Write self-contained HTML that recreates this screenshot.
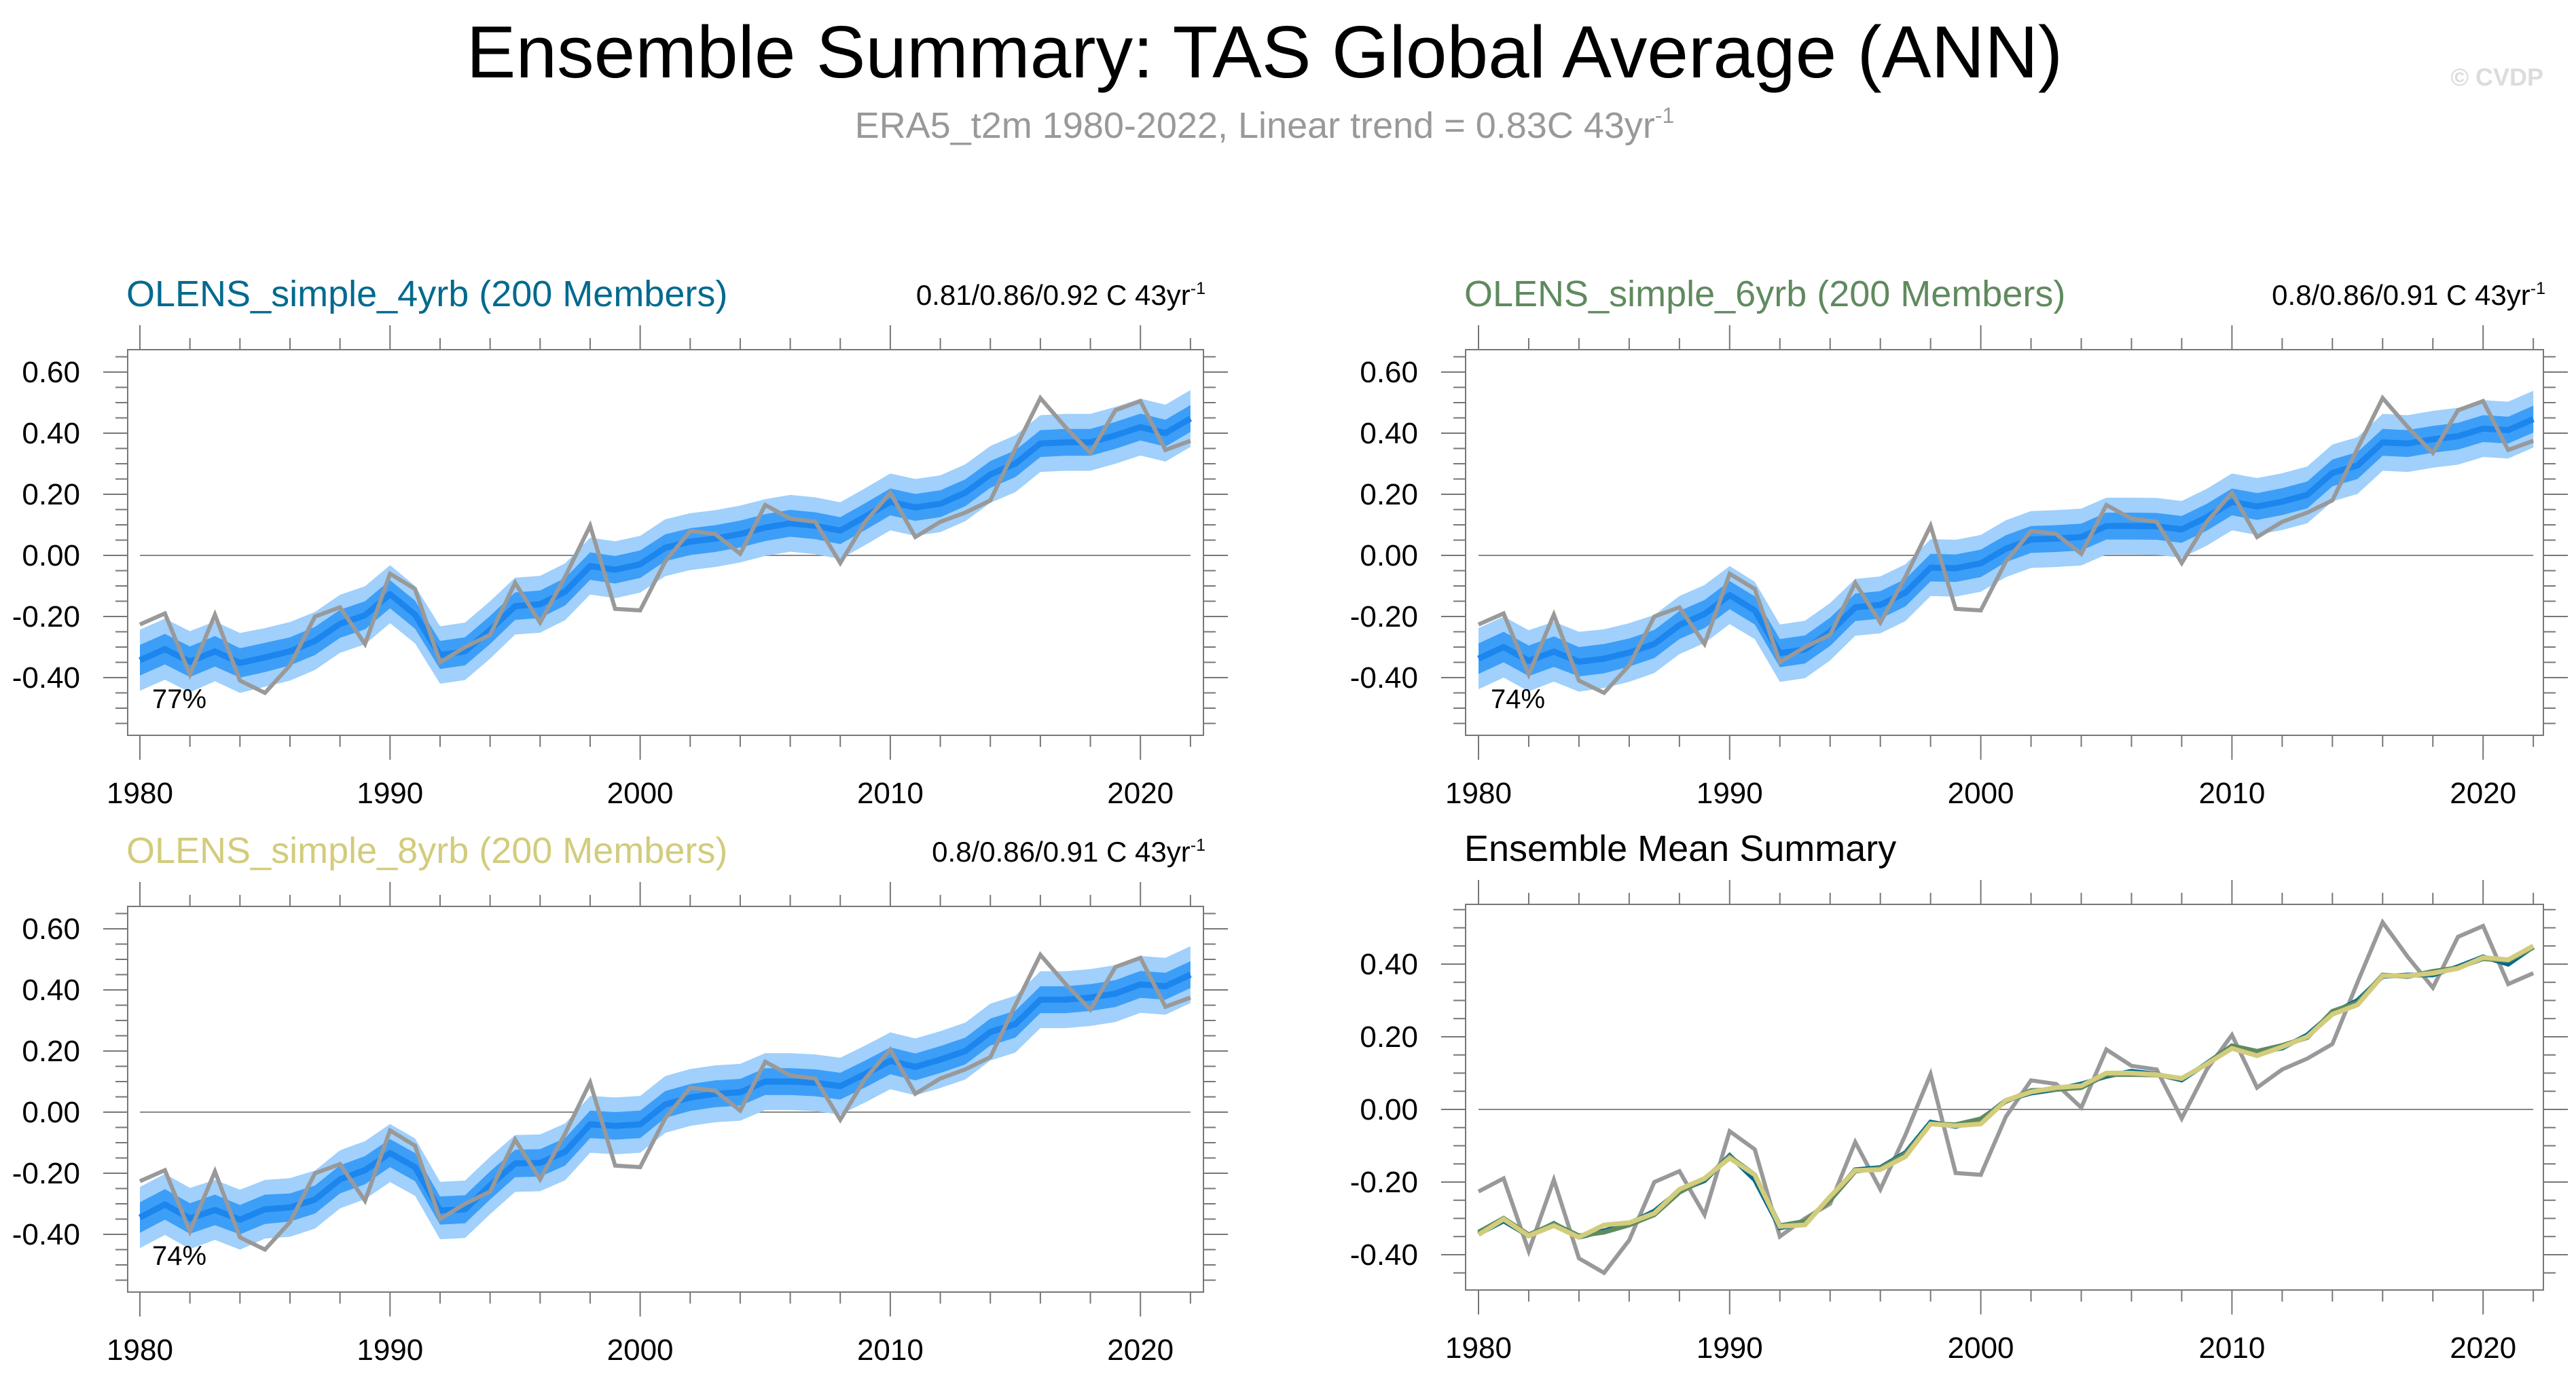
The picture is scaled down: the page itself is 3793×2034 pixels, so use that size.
<!DOCTYPE html>
<html><head><meta charset="utf-8"><style>
html,body{margin:0;padding:0;background:#fff;}
svg{display:block;font-family:"Liberation Sans",sans-serif;}
</style></head><body>
<svg id="chart" width="3793" height="2034" viewBox="0 0 3793 2034" xmlns="http://www.w3.org/2000/svg">
<text x="1862" y="114" font-size="109" text-anchor="middle" fill="#000">Ensemble Summary: TAS Global Average (ANN)</text>
<text x="1862" y="203" font-size="54" text-anchor="middle" fill="#999">ERA5_t2m 1980-2022, Linear trend = 0.83C 43yr<tspan dy="-22" font-size="32">-1</tspan></text>
<text x="3745" y="126" font-size="36" font-weight="bold" text-anchor="end" fill="#dcdcdc">© CVDP</text>
<g id="panels"></g>
</svg>
<script>
const years = [];
for (let y = 1980; y <= 2022; y++) years.push(y);
const obs = [-0.226,-0.19,-0.39,-0.194,-0.41,-0.45,-0.36,-0.20,-0.17,-0.29,-0.06,-0.11,-0.35,-0.30,-0.26,-0.09,-0.22,-0.07,0.097,-0.175,-0.18,-0.02,0.08,0.07,0.005,0.165,0.12,0.11,-0.025,0.11,0.205,0.06,0.11,0.14,0.18,0.35,0.515,0.42,0.335,0.475,0.505,0.345,0.375];
const mean4 = [-0.343,-0.307,-0.348,-0.314,-0.352,-0.334,-0.314,-0.28,-0.224,-0.196,-0.127,-0.194,-0.326,-0.314,-0.244,-0.166,-0.16,-0.119,-0.035,-0.047,-0.029,0.025,0.045,0.055,0.07,0.091,0.105,0.097,0.081,0.127,0.175,0.157,0.169,0.205,0.265,0.30,0.366,0.37,0.37,0.393,0.42,0.40,0.448];
const mean6 = [-0.338,-0.30,-0.345,-0.315,-0.348,-0.338,-0.318,-0.29,-0.228,-0.192,-0.13,-0.18,-0.32,-0.308,-0.25,-0.17,-0.162,-0.122,-0.04,-0.042,-0.026,0.022,0.052,0.055,0.06,0.096,0.096,0.095,0.085,0.125,0.175,0.16,0.176,0.198,0.27,0.294,0.37,0.366,0.38,0.39,0.415,0.41,0.446];
const mean8 = [-0.345,-0.302,-0.348,-0.32,-0.352,-0.318,-0.312,-0.286,-0.22,-0.19,-0.134,-0.18,-0.322,-0.318,-0.24,-0.168,-0.166,-0.13,-0.04,-0.045,-0.04,0.025,0.048,0.06,0.065,0.1,0.1,0.096,0.085,0.125,0.168,0.148,0.172,0.2,0.262,0.288,0.368,0.368,0.375,0.388,0.418,0.412,0.45];
const innerHalf = [0.05,0.05,0.05,0.05,0.048,0.048,0.046,0.046,0.046,0.046,0.046,0.046,0.046,0.046,0.046,0.045,0.045,0.045,0.045,0.045,0.045,0.044,0.044,0.044,0.044,0.044,0.044,0.044,0.044,0.044,0.044,0.044,0.044,0.044,0.044,0.044,0.044,0.044,0.044,0.044,0.044,0.044,0.044];
const outerHalf = [0.1,0.1,0.1,0.098,0.098,0.096,0.096,0.095,0.095,0.095,0.095,0.094,0.094,0.094,0.094,0.093,0.093,0.093,0.093,0.093,0.093,0.093,0.093,0.093,0.093,0.093,0.093,0.093,0.093,0.093,0.093,0.093,0.093,0.093,0.093,0.093,0.093,0.093,0.093,0.093,0.093,0.093,0.093];
const majorYTop = [-0.4,-0.2,0,0.2,0.4,0.6];
const majorYSum = [-0.4,-0.2,0,0.2,0.4];
const majorX = [1980,1990,2000,2010,2020];

const NS = "http://www.w3.org/2000/svg";
const root = document.getElementById('panels');
function mk(tag, attrs, parent) {
  const e = document.createElementNS(NS, tag);
  for (const k in attrs) e.setAttribute(k, attrs[k]);
  (parent || root).appendChild(e);
  return e;
}
function drawPanel(p) {
  const g = mk('g', {});
  
  
  const X = yr => p.xa + (yr - 1980) * p.xs;
  const Y = v => p.yz - v * p.ppu;
  const pts = arr => arr.map((v, i) => X(years[i]) + ',' + Y(v)).join(' ');
  const band = (m, h) => {
    const up = m.map((v, i) => X(years[i]) + ',' + Y(v + h[i]));
    const lo = m.map((v, i) => X(years[i]) + ',' + Y(v - h[i])).reverse();
    return up.concat(lo).join(' ');
  };
  const zl = mk('line', {x1: X(1980), x2: X(2022), y1: Y(0), y2: Y(0), stroke: '#888', 'stroke-width': 2}, g);
  
  
  if (p.mean) {
    const ob = mk('polygon', {points: band(p.mean, outerHalf), fill: '#a0d0fb'}, g);
    
    
    const ib = mk('polygon', {points: band(p.mean, innerHalf), fill: '#3d9ef8'}, g);
    
    
    const ml = mk('polyline', {points: pts(p.mean), fill: 'none', stroke: '#1c86ee', 'stroke-width': 9, 'stroke-linejoin': 'round'}, g);
    
    
    const ol = mk('polyline', {points: pts(obs), fill: 'none', stroke: '#999', 'stroke-width': 6}, g);
    
    
  } else {
    const ol = mk('polyline', {points: pts(obs), fill: 'none', stroke: '#999', 'stroke-width': 6}, g);
    
    
    const series = [[mean4, '#006a8e'], [mean6, '#5f8a5f'], [mean8, '#d2cc7c']];
    series.forEach((s, k) => {
      const l = mk('polyline', {points: pts(s[0]), fill: 'none', stroke: s[1], 'stroke-width': 7}, g);
      
      
    });
  }
  const fr = mk('rect', {x: p.x0, y: p.y0, width: p.x1 - p.x0, height: p.y1 - p.y0, fill: 'none', stroke: '#777', 'stroke-width': 2}, g);
  
  
  for (let yr = 1980; yr <= 2022; yr += 2) {
    const maj = majorX.includes(yr);
    const L = maj ? 36 : 17;
    mk('line', {x1: X(yr), x2: X(yr), y1: p.y0, y2: p.y0 - L, stroke: '#777', 'stroke-width': 2}, g);
    mk('line', {x1: X(yr), x2: X(yr), y1: p.y1, y2: p.y1 + L, stroke: '#777', 'stroke-width': 2}, g);
  }
  majorX.forEach(yr => {
    const t = mk('text', {x: X(yr), y: p.y1 + 100, 'font-size': 44, 'text-anchor': 'middle', fill: '#000'}, g);
    t.textContent = yr;
    
    
  });
  const vTop = (p.yz - p.y0) / p.ppu, vBot = (p.yz - p.y1) / p.ppu;
  for (let k = Math.ceil(vBot * 20); k <= Math.floor(vTop * 20); k++) {
    const v = k / 20;
    const maj = p.majorY.some(m => Math.abs(m - v) < 1e-6);
    const L = maj ? 36 : 18;
    mk('line', {x1: p.x0, x2: p.x0 - L, y1: Y(v), y2: Y(v), stroke: '#777', 'stroke-width': 2}, g);
    mk('line', {x1: p.x1, x2: p.x1 + L, y1: Y(v), y2: Y(v), stroke: '#777', 'stroke-width': 2}, g);
  }
  p.majorY.forEach(v => {
    const t = mk('text', {x: p.x0 - 70, y: Y(v) + 15, 'font-size': 44, 'text-anchor': 'end', fill: '#000'}, g);
    t.textContent = v.toFixed(2);
    
    
  });
  const tt = mk('text', {x: p.x0 - 2, y: p.y0 - 64, 'font-size': 54, fill: p.tcolor}, g);
  tt.textContent = p.title;
  
  
  if (p.trend) {
    const tr = mk('text', {x: p.x1 + 3, y: p.y0 - 66, 'font-size': 42, 'text-anchor': 'end', fill: '#000'}, g);
    tr.innerHTML = p.trend + '<tspan dy="-16" font-size="25">-1</tspan>';
    
    
  }
  if (p.pct) {
    const pc = mk('text', {x: X(1980) + 18, y: p.y0 + 528, 'font-size': 40, fill: '#000'}, g);
    pc.textContent = p.pct;
    
    
  }
}
drawPanel({name: 'panel-4yrb', x0: 188, x1: 1772, y0: 515, y1: 1083, xa: 206, xs: 36.83, yz: 818, ppu: 450, majorY: majorYTop, mean: mean4, title: 'OLENS_simple_4yrb (200 Members)', tcolor: '#006a8e', trend: '0.81/0.86/0.92 C 43yr', pct: '77%'});
drawPanel({name: 'panel-6yrb', x0: 2158, x1: 3745, y0: 515, y1: 1083, xa: 2177, xs: 36.98, yz: 818, ppu: 450, majorY: majorYTop, mean: mean6, title: 'OLENS_simple_6yrb (200 Members)', tcolor: '#5f8a5f', trend: '0.8/0.86/0.91 C 43yr', pct: '74%'});
drawPanel({name: 'panel-8yrb', x0: 188, x1: 1772, y0: 1335, y1: 1903, xa: 206, xs: 36.83, yz: 1638, ppu: 450, majorY: majorYTop, mean: mean8, title: 'OLENS_simple_8yrb (200 Members)', tcolor: '#d2cc7c', trend: '0.8/0.86/0.91 C 43yr', pct: '74%'});
drawPanel({name: 'panel-ensemble-mean-summary', x0: 2158, x1: 3745, y0: 1332, y1: 1900, xa: 2177, xs: 36.98, yz: 1634, ppu: 535, majorY: majorYSum, mean: null, title: 'Ensemble Mean Summary', tcolor: '#000'});
</script>
</body></html>
